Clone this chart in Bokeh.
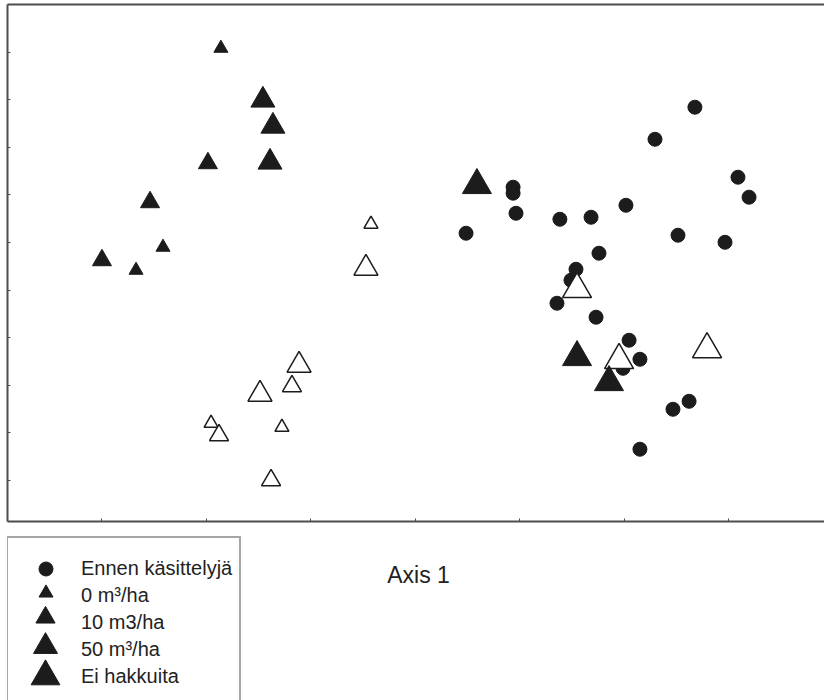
from bokeh.plotting import figure
from bokeh.models import Range1d, FixedTicker, LinearAxis, Legend, LegendItem, Label
from bokeh.layouts import column
from bokeh.embed import file_html
from bokeh.resources import INLINE

# ---------------- data ----------------
x_ticks = [-1.5, -1.0, -0.5, 0.0, 0.5, 1.0, 1.5]
y_ticks = [-2.25, -1.75, -1.25, -0.75, -0.25, 0.25, 0.75, 1.25, 1.75, 2.25]
axis_title = "Axis 1"
labels = ["Ennen käsittelyjä", "0 m³/ha", "10 m3/ha", "50 m³/ha", "Ei hakkuita"]

# before treatment (circles)
before_x = [1.337, 1.146, 1.543, 1.596, 0.467, 0.467, 0.481, 0.242, 0.691, 0.840, 1.007, 1.256,
            1.481, 0.878, 0.768, 0.744, 0.677, 0.864, 1.022, 1.074, 0.993, 1.309, 1.232, 1.074]
before_y = [1.672, 1.335, 0.936, 0.726, 0.831, 0.768, 0.557, 0.347, 0.494, 0.515, 0.641, 0.326,
            0.252, 0.137, -0.032, -0.147, -0.389, -0.536, -0.778, -0.978, -1.073, -1.420, -1.504, -1.924]

# filled triangles
f0_x = [-0.931, -1.208, -1.337]
f0_y = [2.292, 0.200, -0.042]
f10_x = [-0.993, -1.270, -1.500]
f10_y = [1.083, 0.673, 0.063]
f50_x = [-0.730, -0.682, -0.696]
f50_y = [1.746, 1.472, 1.094]
fei_x = [0.294, 0.773, 0.926]
fei_y = [0.852, -0.957, -1.220]

# open triangles
o0_x = [-0.213, -0.978, -0.639]
o0_y = [0.442, -1.651, -1.693]
o10_x = [-0.591, -0.940, -0.691]
o10_y = [-1.262, -1.777, -2.250]
o50_x = [-0.237, -0.557, -0.744]
o50_y = [-0.021, -1.041, -1.346]
oei_x = [0.773, 0.974, 1.395]
oei_y = [-0.242, -0.988, -0.873]

# ---------------- styles ----------------
INK = "#1c1c1c"
FRAME = "#4d4d4d"
TEXT = "#222222"
FONT = "Liberation Sans"
tri_sizes = [14, 19, 24, 29]
circle_size = 14

W = 824
H_TOP = 524
H_BOT = 700 - H_TOP

# ---------------- main plot ----------------
p = figure(width=W, height=H_TOP,
           x_range=Range1d(-1.952, 1.957), y_range=Range1d(-2.684, 2.752),
           output_backend="svg", toolbar_location=None,
           min_border_left=7, min_border_right=0, min_border_top=4,
           min_border_bottom=3)
p.outline_line_color = None
p.xgrid.visible = False
p.ygrid.visible = False

xa = p.xaxis[0]
xa.ticker = FixedTicker(ticks=x_ticks)
xa.major_label_overrides = {t: "" for t in x_ticks}
ya = p.yaxis[0]
ya.ticker = FixedTicker(ticks=y_ticks)
ya.major_label_overrides = {t: "" for t in y_ticks}
for ax in (xa, ya):
    ax.major_label_text_font_size = "1px"
    ax.major_label_standoff = 0
    ax.major_tick_in = 3
    ax.major_tick_out = 0
    ax.minor_tick_in = 0
    ax.minor_tick_out = 0
    ax.axis_line_color = FRAME
    ax.axis_line_width = 2
    ax.major_tick_line_color = FRAME
    ax.major_tick_line_width = 1

top = LinearAxis(ticker=FixedTicker(ticks=[]), major_label_text_font_size="1px",
                 major_label_standoff=0, major_tick_in=0, major_tick_out=0,
                 minor_tick_in=0, minor_tick_out=0,
                 axis_line_color=FRAME, axis_line_width=2)
p.add_layout(top, "above")

circ = p.scatter(before_x, before_y, marker="circle", size=circle_size,
                 fill_color=INK, line_color=INK, line_width=1)

open_sets = [(o0_x, o0_y), (o10_x, o10_y), (o50_x, o50_y), (oei_x, oei_y)]
for (xs, ys), s in zip(open_sets, tri_sizes):
    p.scatter(xs, ys, marker="triangle", size=s, fill_color="white",
              line_color=INK, line_width=1.5)

filled_sets = [(f0_x, f0_y), (f10_x, f10_y), (f50_x, f50_y), (fei_x, fei_y)]
for (xs, ys), s in zip(filled_sets, tri_sizes):
    p.scatter(xs, ys, marker="triangle", size=s, fill_color=INK,
              line_color=INK, line_width=1)

# ---------------- lower strip: legend + axis title ----------------
# ranges far away from the data so that the legend proxies draw no marks here
q = figure(width=W, height=H_BOT, x_range=Range1d(100, 101), y_range=Range1d(100, 101),
           output_backend="svg", toolbar_location=None,
           x_axis_location=None, y_axis_location=None,
           min_border_left=0, min_border_right=0, min_border_top=0, min_border_bottom=0)
q.outline_line_color = None
q.xgrid.visible = False
q.ygrid.visible = False

# legend key proxies: same series, same styles
key_sets = [(before_x, before_y)] + filled_sets
key_markers = ["circle", "triangle", "triangle", "triangle", "triangle"]
key_sizes = [circle_size] + tri_sizes
keys = [q.scatter(xs, ys, marker=m, fill_color=INK, line_color=INK, line_width=1)
        for (xs, ys), m in zip(key_sets, key_markers)]
blank = q.scatter(before_x, before_y, marker="circle", fill_alpha=0, line_alpha=0)

DX = -8   # measured offset correction of this strip
page_bottom = 700
box_left = 7
box_top = 537
pad = 7
head = 12
row_h = 24
gap = 3
box_labels = labels + [" "]   # trailing empty row: the box runs past the page bottom
n = len(box_labels)
box_h = 2 * pad + head + n * row_h + (n - 1) * gap
box = Legend(items=[LegendItem(label=lab, renderers=[blank]) for lab in box_labels],
             location=(box_left + DX, page_bottom - (box_top + box_h) - 2),
             orientation="vertical", glyph_width=0, glyph_height=row_h, spacing=gap,
             padding=pad, margin=0, label_standoff=66,
             title=" ", title_text_font_size="8px", title_standoff=2,
             border_line_color=FRAME, border_line_width=2, background_fill_alpha=0,
             label_text_font=FONT, label_text_font_size="20px", label_text_color=TEXT)
q.add_layout(box)

key_cx = 46
key_cy = [568, 592, 617, 646, 676]
for r, s, cy in zip(keys, key_sizes, key_cy):
    g = int(round(s / 0.4))
    lg = Legend(items=[LegendItem(label=" ", renderers=[r])],
                location=(key_cx - g / 2 + DX, page_bottom - (cy + g / 2)),
                orientation="vertical", glyph_width=g, glyph_height=g,
                padding=0, margin=0, spacing=0, label_standoff=0,
                border_line_color=None, background_fill_alpha=0,
                label_text_font_size="1px")
    q.add_layout(lg)

q.add_layout(Label(x=419 + DX, y=page_bottom - 574, x_units="screen", y_units="screen",
                   text=axis_title, text_align="center", text_baseline="middle",
                   text_font=FONT, text_font_size="23px", text_color=TEXT))

layout = column(p, q, spacing=0)
open("out.html", "w").write(file_html(layout, INLINE))
